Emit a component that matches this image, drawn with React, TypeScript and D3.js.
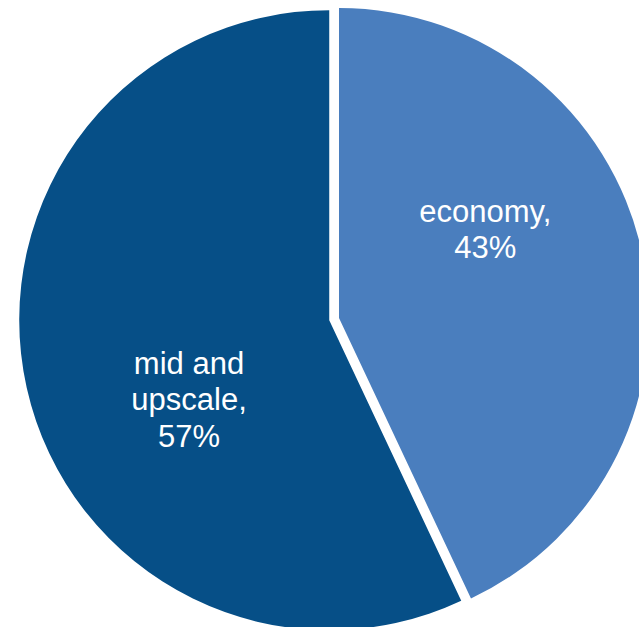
import React from "react";
import * as d3 from "d3";

const categories = ["economy", "mid and upscale"];
const values = [43, 57];
const labelLines = [["economy,", "43%"], ["mid and", "upscale,", "57%"]];
const colors = ["#4a7ebe", "#064f87"];
const explode = [0, 10];

export default function App() {
  const W = 639, H = 627;
  const cx = 339, cy = 318, r = 310;
  const pie = d3.pie<number>().sort(null).startAngle(0).endAngle(2 * Math.PI)(values);
  const arc = d3.arc<d3.PieArcDatum<number>>().innerRadius(0).outerRadius(r);
  const fs = 31, lh = 36.5;
  return (
    <svg width={W} height={H} style={{ position: "absolute", left: 0, top: 0 }}
      fontFamily="'Liberation Sans', Arial, sans-serif">
      <rect width={W} height={H} fill="#ffffff" />
      {pie.map((d, i) => {
        const mid = (d.startAngle + d.endAngle) / 2;
        const ox = explode[i] * Math.sin(mid);
        const oy = -explode[i] * Math.cos(mid);
        const la = mid - 0.31;
        const lr = 166;
        const lx = lr * Math.sin(la) + 3;
        const ly = -lr * Math.cos(la);
        const lines = labelLines[i];
        const first = ly - ((lines.length - 1) * lh) / 2 + 6;
        return (
          <g key={categories[i]} transform={`translate(${cx + ox},${cy + oy})`}>
            <path d={arc(d) || ""} fill={colors[i]} />
            <text textAnchor="middle" fill="#ffffff" fontSize={fs}>
              {lines.map((t, j) => (
                <tspan key={j} x={lx} y={first + j * lh}>{t}</tspan>
              ))}
            </text>
          </g>
        );
      })}
    </svg>
  );
}
